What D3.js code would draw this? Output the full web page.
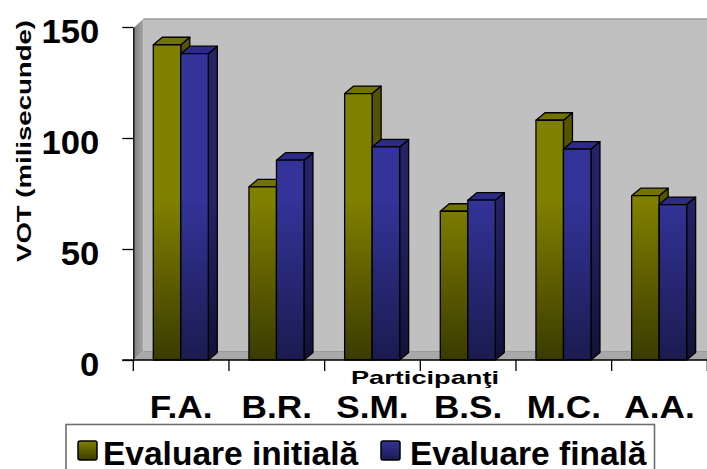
<!DOCTYPE html>
<html>
<head>
<meta charset="utf-8">
<script src="https://cdn.jsdelivr.net/npm/d3@7"></script>
<style>
  html, body { margin: 0; padding: 0; background: #ffffff; }
  svg { display: block; font-family: "Liberation Sans", Arial, sans-serif; font-weight: bold; }
</style>
</head>
<body>
<svg id="chart" width="707" height="469"></svg>
<script>
// Participants and their VOT values (ms) at the two evaluations
const categories = ["F.A.", "B.R.", "S.M.", "B.S.", "M.C.", "A.A."];
const initialValues = [142, 78, 120, 67, 108, 74];
const finalValues = [138, 90, 96, 72, 95, 70];
const seriesNames = ["Evaluare initială", "Evaluare finală"];
const yTicks = [0, 50, 100, 150];
const yTitle = "VOT (milisecunde)";
const xTitle = "Participanţi";

const svg = d3.select("#chart");
const defs = svg.append("defs");

// widen a text horizontally by factor k, keeping its anchor
function widen(sel, k) {
  sel.each(function () {
    const w = this.getComputedTextLength();
    d3.select(this).attr("textLength", w * k).attr("lengthAdjust", "spacingAndGlyphs");
  });
}

// layout
const plotLeft = 133.3, plotRight = 707.3, plotTop = 27, plotBottom = 360;
const wallDx = 10, wallDy = -8.5;   // depth of walls
const barDx = 9, barDy = -7.5;      // depth of columns

const x = d3.scaleBand().domain(categories).range([plotLeft, plotRight]);
const y = d3.scaleLinear().domain([0, 150]).range([plotBottom, plotTop]);

// series styling
const series = [
  { name: seriesNames[0], values: initialValues, front: "#808000", frontDark: "#3b3b00", top: "#737300", side: "#555500", sideDark: "#262600" },
  { name: seriesNames[1], values: finalValues, front: "#333399", frontDark: "#1b1b50", top: "#2c2c86", side: "#232366", sideDark: "#121238" }
];

function vGrad(id, c1, c2, userSpace) {
  const g = defs.append("linearGradient").attr("id", id).attr("x1", 0).attr("x2", 0);
  if (userSpace) {
    g.attr("gradientUnits", "userSpaceOnUse").attr("y1", 200).attr("y2", plotBottom);
  } else {
    g.attr("y1", 0).attr("y2", 1);
  }
  g.append("stop").attr("offset", 0).attr("stop-color", c1);
  g.append("stop").attr("offset", 1).attr("stop-color", c2);
}
series.forEach((s, i) => {
  vGrad("front" + i, s.front, s.frontDark, true);
  vGrad("side" + i, s.side, s.sideDark, true);
  vGrad("swatch" + i, s.front, s.frontDark, false);
});
const lw = defs.append("linearGradient").attr("id", "leftWall").attr("x1", 0).attr("x2", 1).attr("y1", 0).attr("y2", 0);
lw.append("stop").attr("offset", 0).attr("stop-color", "#7e7e7e");
lw.append("stop").attr("offset", 1).attr("stop-color", "#a4a4a4");

// walls and floor
const backTop = plotTop + wallDy + 0.5;
svg.append("rect")
  .attr("x", plotLeft + wallDx).attr("y", backTop)
  .attr("width", 720 - plotLeft - wallDx).attr("height", plotBottom + wallDy - backTop)
  .attr("fill", "#c0c0c0");
svg.append("line")
  .attr("x1", plotLeft + wallDx).attr("x2", 720)
  .attr("y1", backTop).attr("y2", backTop)
  .attr("stroke", "#9c9c9c").attr("stroke-width", 1.5);
svg.append("polygon")
  .attr("points", [[plotLeft, plotTop + 1], [plotLeft + wallDx, backTop], [plotLeft + wallDx, plotBottom + wallDy], [plotLeft, plotBottom]].join(" "))
  .attr("fill", "url(#leftWall)");
svg.append("polygon")
  .attr("points", [[plotLeft, plotBottom], [plotLeft + wallDx, plotBottom + wallDy], [720, plotBottom + wallDy], [720, plotBottom]].join(" "))
  .attr("fill", "#a9a9a9");
svg.append("line")
  .attr("x1", plotLeft + wallDx).attr("x2", 720)
  .attr("y1", plotBottom + wallDy).attr("y2", plotBottom + wallDy)
  .attr("stroke", "#9a9a9a").attr("stroke-width", 1);

// 3D columns
const step = x.step();
const barW = step * 0.2875;
const barOff = step * 0.209;

const groups = svg.append("g").selectAll("g")
  .data(categories)
  .join("g");

groups.each(function (cat, ci) {
  const g = d3.select(this);
  series.forEach((s, si) => {
    const x0 = x(cat) + barOff + si * barW;
    const x1 = x0 + barW;
    const yt = y(s.values[ci]);
    const yb = y(0);
    const stroke = { "stroke": "#000", "stroke-width": 1.3, "stroke-linejoin": "round" };
    const side = g.append("polygon")
      .attr("points", [[x1, yt], [x1 + barDx, yt + barDy], [x1 + barDx, yb + barDy], [x1, yb]].join(" "))
      .attr("fill", `url(#side${si})`);
    const top = g.append("polygon")
      .attr("points", [[x0, yt], [x0 + barDx, yt + barDy], [x1 + barDx, yt + barDy], [x1, yt]].join(" "))
      .attr("fill", s.top);
    const front = g.append("rect")
      .attr("x", x0).attr("y", yt).attr("width", barW).attr("height", yb - yt)
      .attr("fill", `url(#front${si})`);
    [side, top, front].forEach(el => Object.entries(stroke).forEach(([k, v]) => el.attr(k, v)));
  });
});

// y axis
const yAxis = svg.append("g")
  .attr("transform", `translate(${plotLeft},0)`)
  .call(d3.axisLeft(y).tickValues(yTicks).tickSize(11).tickSizeOuter(0).tickPadding(23));
yAxis.select(".domain").attr("stroke", "#000").attr("stroke-width", 1.3);
yAxis.selectAll(".tick line").attr("stroke", "#000").attr("stroke-width", 1.3);
yAxis.selectAll(".tick text")
  .attr("font-size", 33).attr("font-weight", "bold").attr("fill", "#000")
  .attr("font-family", "Liberation Sans, Arial, sans-serif")
  .attr("dy", 15)
  .call(widen, 1.05);

// x axis line and category boundary ticks
svg.append("line")
  .attr("x1", plotLeft - 11).attr("x2", 720)
  .attr("y1", plotBottom).attr("y2", plotBottom)
  .attr("stroke", "#000").attr("stroke-width", 1.3);
svg.append("g").selectAll("line")
  .data(categories.map(c => x(c)).concat([x.range()[1]]))
  .join("line")
  .attr("x1", d => d).attr("x2", d => d)
  .attr("y1", plotBottom).attr("y2", plotBottom + 11)
  .attr("stroke", "#000").attr("stroke-width", 1.3);

svg.append("g").selectAll("text")
  .data(categories)
  .join("text")
  .attr("x", d => x(d) + x.bandwidth() / 2)
  .attr("y", 418)
  .attr("text-anchor", "middle")
  .attr("font-size", 32)
  .text(d => d)
  .call(widen, 1.1);

// axis titles
svg.append("text")
  .attr("x", 425).attr("y", 384)
  .attr("text-anchor", "middle")
  .attr("font-size", 19)
  .attr("textLength", 148).attr("lengthAdjust", "spacingAndGlyphs")
  .text(xTitle);

svg.append("text")
  .attr("transform", "translate(30.5,141) rotate(-90)")
  .attr("text-anchor", "middle")
  .attr("font-size", 21)
  .attr("textLength", 242).attr("lengthAdjust", "spacingAndGlyphs")
  .text(yTitle);

// legend
const legend = svg.append("g");
legend.append("rect")
  .attr("x", 66).attr("y", 424.5).attr("width", 588.5).attr("height", 60)
  .attr("fill", "#fff").attr("stroke", "#6e6e6e").attr("stroke-width", 1.6);
const legendItems = [{ sx: 78, tx: 103 }, { sx: 381, tx: 410 }];
series.forEach((s, i) => {
  legend.append("rect")
    .attr("x", legendItems[i].sx).attr("y", 441).attr("width", 19).attr("height", 19)
    .attr("rx", 2)
    .attr("fill", `url(#swatch${i})`).attr("stroke", "#000").attr("stroke-width", 1.5);
  legend.append("text")
    .attr("x", legendItems[i].tx).attr("y", 465)
    .attr("font-size", 33.5)
    .text(s.name);
});
</script>
</body>
</html>
